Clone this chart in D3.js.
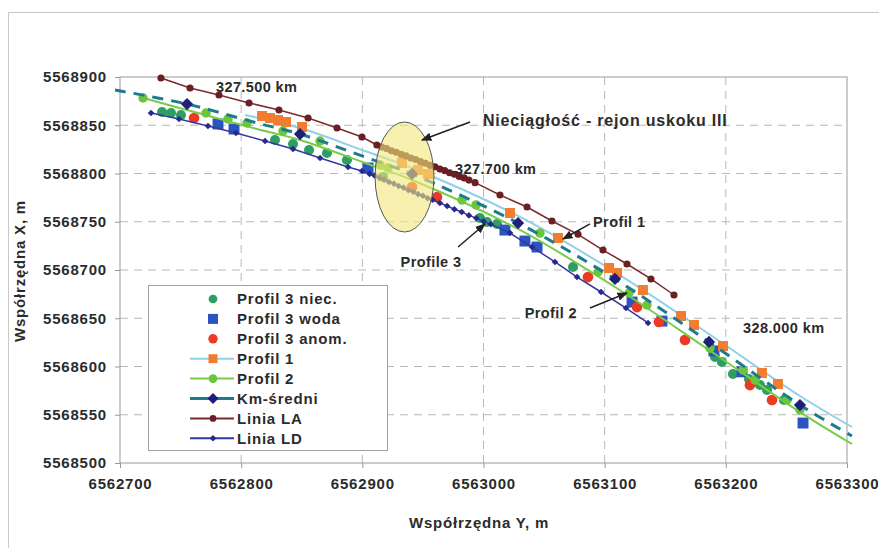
<!DOCTYPE html>
<html>
<head>
<meta charset="utf-8">
<script src="https://cdn.jsdelivr.net/npm/d3@7"></script>
<style>
  body { margin: 0; background: #fff; }
  text { font-family: "Liberation Sans", Arial, sans-serif; font-weight: bold; fill: #2b2b2b; }
</style>
</head>
<body>
<svg id="chart" width="879" height="548"></svg>
<script>
// axis ticks
var xTicks = [6562700, 6562800, 6562900, 6563000, 6563100, 6563200, 6563300];
var yTicks = [5568500, 5568550, 5568600, 5568650, 5568700, 5568750, 5568800, 5568850, 5568900];

// [Y easting, X northing]
var profil3Niec = [[6562734.7,5568863.7],[6562742.1,5568862.7],[6562750.3,5568860.6],[6562827.9,5568834.7],
  [6562842.8,5568830.6],[6562856.0,5568824.4],[6562870.8,5568821.2],[6562887.3,5568814.0],[6562917.1,5568796.4],
  [6562997.1,5568753.9],[6563002.9,5568749.7],[6563011.1,5568747.7],[6563073.9,5568703.1],[6563191.1,5568609.9],
  [6563196.8,5568604.7],[6563205.9,5568592.2],[6563219.1,5568587.0],[6563228.2,5568580.8],[6563234.0,5568575.6],
  [6563248.0,5568565.3]];
var profil3Woda = [[6562780.9,5568851.3],[6562794.1,5568846.1],[6562904.7,5568805.7],[6563017.7,5568741.4],
  [6563034.2,5568730.0],[6563044.2,5568723.8],[6563122.6,5568666.8],[6563147.3,5568647.1],[6563190.2,5568616.1],
  [6563213.3,5568594.5],[6563263.7,5568541.4]];
var profil3Anom = [[6562761.1,5568857.5],[6562941.0,5568786.0],[6562961.6,5568775.6],[6563086.2,5568692.7],
  [6563126.7,5568661.6],[6563144.8,5568646.1],[6563166.3,5568627.5],[6563219.9,5568580.8],[6563238.1,5568565.3]];
var profil1Line = [[6562803.2,5568860.6],[6562848.6,5568847.1],[6562902.2,5568823.3],[6562941.0,5568805.7],
  [6563028.5,5568756.0],[6563108.5,5568697.9],[6563186.1,5568633.7],[6563261.2,5568569.4],[6563304.1,5568537.3]];
var profil1Pts = [[6562817.2,5568859.6],[6562823.8,5568857.5],[6562830.4,5568855.4],[6562837.0,5568853.4],
  [6562850.2,5568848.2],[6562932.7,5568810.9],[6562945.9,5568803.6],[6562954.2,5568799.5],[6563021.9,5568759.1],
  [6563061.5,5568733.2],[6563103.6,5568702.1],[6563110.2,5568696.9],[6563131.6,5568679.3],[6563163.0,5568652.3],
  [6563173.7,5568643.0],[6563197.7,5568621.2],[6563229.8,5568593.3],[6563243.0,5568581.9]];
var profil2Line = [[6562716.5,5568879.3],[6562755.3,5568865.8],[6562813.1,5568846.1],[6562848.6,5568834.7],
  [6562902.2,5568810.9],[6562941.0,5568793.3],[6563028.5,5568742.5],[6563108.5,5568682.4],[6563186.1,5568617.1],
  [6563261.2,5568552.8],[6563304.1,5568519.7]];
var profil2Pts = [[6562719.0,5568878.2],[6562771.0,5568862.7],[6562789.1,5568856.5],[6562804.8,5568852.3],
  [6562834.5,5568844.0],[6562865.1,5568833.7],[6562914.6,5568808.8],[6562921.2,5568805.7],[6562982.3,5568772.5],
  [6562993.8,5568767.4],[6563046.6,5568738.3],[6563094.5,5568697.9],[6563120.1,5568676.2],[6563134.9,5568663.7],
  [6563186.9,5568618.9],[6563214.2,5568596.4],[6563224.1,5568586.0],[6563250.5,5568565.3],[6563261.2,5568554.9]];
var kmLine = [[6562695.9,5568886.5],[6562755.3,5568872.0],[6562813.1,5568852.3],[6562848.6,5568840.9],
  [6562902.2,5568817.1],[6562941.0,5568799.5],[6563028.5,5568748.7],[6563108.5,5568690.7],[6563186.1,5568625.4],
  [6563261.2,5568560.1],[6563304.1,5568528.0]];
var kmPts = [[6562755.3,5568872.0],[6562848.6,5568840.9],[6562941.0,5568799.5],[6563028.5,5568748.7],
  [6563108.5,5568690.7],[6563186.1,5568625.4],[6563261.2,5568560.1]];
var liniaLA = [[6562733.8,5568899.0],[6562757.8,5568888.6],[6562781.7,5568881.3],[6562806.5,5568873.1],
  [6562831.2,5568865.8],[6562855.2,5568857.5],[6562879.1,5568847.1],[6562899.7,5568837.8],
  [6562912,5568829.5],[6562916,5568827.4],[6562920,5568825.8],[6562924,5568823.6],[6562928,5568822.0],
  [6562932,5568819.8],[6562936,5568818.2],[6562940,5568816.0],[6562944,5568814.5],[6562948,5568812.3],
  [6562952,5568810.6],[6562956,5568808.4],[6562960,5568806.9],[6562964,5568804.6],[6562968,5568803.0],
  [6562972,5568800.8],[6562976,5568799.2],[6562980,5568797.0],[6562984,5568795.4],[6562988,5568793.2],
  [6562993,5568790.5],[6563013.6,5568777.7],[6563035.9,5568765.3],[6563056.5,5568750.8],[6563078.0,5568737.0],
  [6563098.6,5568720.7],[6563118.4,5568706.2],[6563138.2,5568690.7],[6563157.2,5568674.1]];
var liniaLD = [[6562725.6,5568862.7],[6562748.7,5568856.5],[6562772.6,5568849.2],[6562795.7,5568842.0],
  [6562819.7,5568833.7],[6562842.8,5568825.4],[6562865.1,5568816.1],[6562888.2,5568806.7],[6562899.7,5568802.6],
  [6562906,5568799.6],[6562910,5568797.9],[6562914,5568795.5],[6562918,5568793.7],[6562922,5568791.2],
  [6562926,5568789.5],[6562930,5568787.0],[6562934,5568785.3],[6562938,5568782.8],[6562942,5568781.1],
  [6562946,5568778.6],[6562950,5568776.9],[6562954,5568774.4],[6562958,5568772.8],[6562964,5568769.4],
  [6562970,5568766.3],[6562976,5568763.0],[6562982,5568760.1],[6562988,5568756.6],[6562994,5568753.8],
  [6563000,5568750.4],[6563006,5568747.5],[6563021.9,5568738.3],[6563040.0,5568723.8],[6563059.0,5568708.3],
  [6563077.2,5568692.7],[6563097.0,5568677.2],[6563117.6,5568660.6],[6563135.8,5568645.1]];

// fault zone ellipse: centre, half-width (m), half-height (m)
var faultZone = [6562934.8, 5568796.4, 24.3, 57];

var labels = [
  ["327.500 km", 6562779.2, 5568889.6, "start", 14.5],
  ["Nieciągłość - rejon uskoku III", 6562999.6, 5568855.4, "start", 16],
  ["327.700 km", 6562976.5, 5568804.7, "start", 14.5],
  ["Profil 1", 6563090.4, 5568749.7, "start", 14.5],
  ["Profile 3", 6562956.7, 5568708.3, "middle", 14.5],
  ["Profil 2", 6563077.2, 5568655.4, "end", 14.5],
  ["328.000 km", 6563214.2, 5568639.9, "start", 14.5]
];
var arrows = [
  [[6562988.9,5568853.4],[6562949.2,5568834.7]],
  [[6563087.9,5568747.7],[6563065.6,5568732.1]],
  [[6562979.0,5568723.8],[6563001.2,5568747.7]],
  [[6563087.9,5568660.6],[6563118.4,5568676.2]]
];

var svg = d3.select("#chart");
var x = d3.scaleLinear().domain([6562700, 6563300]).range([120, 847]);
var y = d3.scaleLinear().domain([5568500, 5568900]).range([463, 77]);

// outer frame
svg.append("rect").attr("x", 8.5).attr("y", 12.5).attr("width", 900).attr("height", 600)
  .attr("fill", "none").attr("stroke", "#c8c8c8");

// grid
svg.selectAll(".gx").data(xTicks.slice(1, -1)).enter().append("line")
  .attr("x1", d => x(d)).attr("x2", d => x(d)).attr("y1", y(5568900)).attr("y2", y(5568500))
  .attr("stroke", "#b8b8b8").attr("stroke-dasharray", "8,6");
svg.selectAll(".gy").data(yTicks.slice(1, -1)).enter().append("line")
  .attr("y1", d => y(d)).attr("y2", d => y(d)).attr("x1", x(6562700)).attr("x2", x(6563300))
  .attr("stroke", "#b8b8b8").attr("stroke-dasharray", "8,6");
svg.append("rect").attr("x", x(6562700)).attr("y", y(5568900))
  .attr("width", x(6563300) - x(6562700)).attr("height", y(5568500) - y(5568900))
  .attr("fill", "none").attr("stroke", "#9a9a9a");

// axes
var ax = svg.append("g").attr("transform", "translate(0," + y(5568500) + ")")
  .call(d3.axisBottom(x).tickValues(xTicks).tickFormat(d3.format("d")).tickSize(5).tickPadding(10));
var ay = svg.append("g").attr("transform", "translate(" + x(6562700) + ",0)")
  .call(d3.axisLeft(y).tickValues(yTicks).tickFormat(d3.format("d")).tickSize(5).tickPadding(8));
[ax, ay].forEach(function(g) {
  g.select(".domain").remove();
  g.selectAll("line").attr("stroke", "#9a9a9a");
  g.selectAll("text").attr("font-size", 15).attr("letter-spacing", "0.8px")
    .attr("font-family", "Liberation Sans, Arial, sans-serif").attr("fill", "#2b2b2b");
});

svg.append("text").attr("x", 479).attr("y", 528).attr("text-anchor", "middle")
  .attr("font-size", 15).attr("letter-spacing", "0.8px").text("Współrzędna Y, m");
svg.append("text").attr("transform", "translate(25,271) rotate(-90)").attr("text-anchor", "middle")
  .attr("font-size", 15).attr("letter-spacing", "0.8px").text("Współrzędna X, m");

// series
var line = d3.line().x(d => x(d[0])).y(d => y(d[1])).curve(d3.curveCatmullRom);
var plain = d3.line().x(d => x(d[0])).y(d => y(d[1]));

function sym(type, size, rot) {
  var p = d3.symbol().type(type).size(size)();
  return function(g) { g.attr("d", p).attr("transform", d => "translate(" + x(d[0]) + "," + y(d[1]) + ")" + (rot ? " rotate(45)" : "")); };
}
function points(data, type, size, rot, fill) {
  svg.append("g").selectAll("path").data(data).enter().append("path")
    .call(sym(type, size, rot)).attr("fill", fill);
}

points(profil3Niec, d3.symbolCircle, 80, false, "#2f9e62");
points(profil3Woda, d3.symbolSquare, 120, false, "#2a54c0");
points(profil3Anom, d3.symbolCircle, 90, false, "#ee3a24");

svg.append("path").datum(profil1Line).attr("d", line).attr("fill", "none")
  .attr("stroke", "#8fd0ea").attr("stroke-width", 2);
points(profil1Pts, d3.symbolSquare, 100, false, "#f27c30");

svg.append("path").datum(profil2Line).attr("d", line).attr("fill", "none")
  .attr("stroke", "#79cc4a").attr("stroke-width", 2);
points(profil2Pts, d3.symbolCircle, 70, false, "#6cc63c");

svg.append("path").datum(kmLine).attr("d", line).attr("fill", "none")
  .attr("stroke", "#1c7c8e").attr("stroke-width", 3).attr("stroke-dasharray", "11,8");
points(kmPts, d3.symbolSquare, 75, true, "#1d1f7a");

svg.append("path").datum(liniaLA).attr("d", plain).attr("fill", "none")
  .attr("stroke", "#7a2b2e").attr("stroke-width", 1.5);
points(liniaLA, d3.symbolCircle, 40, false, "#6a1f22");

svg.append("path").datum(liniaLD).attr("d", plain).attr("fill", "none")
  .attr("stroke", "#35389e").attr("stroke-width", 1.5);
points(liniaLD, d3.symbolSquare, 22, true, "#252a8c");

// fault zone
svg.append("ellipse")
  .attr("cx", x(faultZone[0])).attr("cy", y(faultZone[1]))
  .attr("rx", x(faultZone[0] + faultZone[2]) - x(faultZone[0]))
  .attr("ry", y(faultZone[1] - faultZone[3]) - y(faultZone[1]))
  .attr("fill", "#f2e67c").attr("fill-opacity", 0.62).attr("stroke", "#555").attr("stroke-width", 1);

// annotations
svg.append("defs").append("marker").attr("id", "arr").attr("viewBox", "0 0 10 10")
  .attr("refX", 9).attr("refY", 5).attr("markerWidth", 7).attr("markerHeight", 7).attr("orient", "auto")
  .append("path").attr("d", "M0,1 L10,5 L0,9 Z").attr("fill", "#222");
svg.selectAll(".arrow").data(arrows).enter().append("path")
  .attr("d", plain).attr("stroke", "#222").attr("stroke-width", 1.5).attr("fill", "none")
  .attr("marker-end", "url(#arr)");
svg.selectAll(".lab").data(labels).enter().append("text")
  .attr("x", d => x(d[1])).attr("y", d => y(d[2])).attr("dy", "0.35em")
  .attr("text-anchor", d => d[3]).attr("font-size", d => d[4])
  .attr("letter-spacing", d => d[4] > 15 ? "0.8px" : "0.4px").text(d => d[0]);

// legend
var legendItems = [
  ["Profil 3 niec.", null, d3.symbolCircle, 60, false, "#2f9e62"],
  ["Profil 3 woda", null, d3.symbolSquare, 100, false, "#2a54c0"],
  ["Profil 3 anom.", null, d3.symbolCircle, 70, false, "#ee3a24"],
  ["Profil 1", "#8fd0ea", d3.symbolSquare, 80, false, "#f27c30"],
  ["Profil 2", "#79cc4a", d3.symbolCircle, 60, false, "#6cc63c"],
  ["Km-średni", "#1c7c8e", d3.symbolSquare, 60, true, "#1d1f7a"],
  ["Linia LA", "#7a2b2e", d3.symbolCircle, 35, false, "#6a1f22"],
  ["Linia LD", "#35389e", d3.symbolSquare, 22, true, "#252a8c"]
];
var lg = svg.append("g");
lg.append("rect").attr("x", 148.5).attr("y", 285.5).attr("width", 239).attr("height", 165)
  .attr("fill", "#fff").attr("stroke", "#a0a0a0");
legendItems.forEach(function(it, i) {
  var cy = 299 + i * 19.9;
  if (it[1]) lg.append("line").attr("x1", 190).attr("x2", 234).attr("y1", cy).attr("y2", cy)
    .attr("stroke", it[1]).attr("stroke-width", it[0] === "Km-średni" ? 3 : 2);
  lg.append("path").attr("d", d3.symbol().type(it[2]).size(it[3])())
    .attr("transform", "translate(213," + cy + ")" + (it[4] ? " rotate(45)" : "")).attr("fill", it[5]);
  lg.append("text").attr("x", 237).attr("y", cy).attr("dy", "0.36em")
    .attr("font-size", 15).attr("letter-spacing", "0.8px").text(it[0]);
});
</script>
</body>
</html>
